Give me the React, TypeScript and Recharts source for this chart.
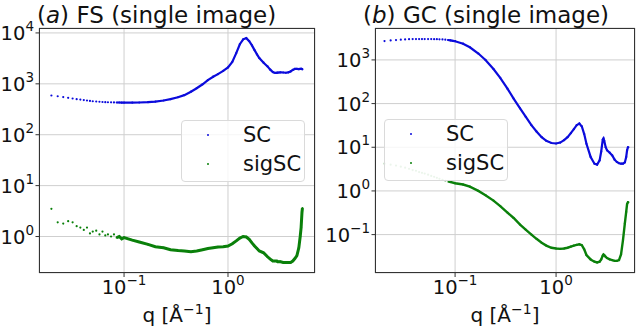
import React from "react";
import { Legend, Scatter, ScatterChart, XAxis, YAxis, CartesianGrid } from "recharts";

// q grid shared by both panels (Å^-1)
const qGrid = [
    0.020, 0.023, 0.026, 0.029, 0.032, 0.035, 0.038, 0.041, 0.044, 0.047, 0.050, 0.054, 0.058, 0.062, 0.066,
    0.070, 0.075, 0.080, 0.085, 0.090, 0.095,
    0.10, 0.12, 0.14, 0.17, 0.20, 0.24, 0.28, 0.33, 0.38, 0.44, 0.50, 0.57, 0.64, 0.72, 0.80, 0.90, 1.00,
    1.10, 1.20, 1.30, 1.40, 1.50, 1.60, 1.70, 1.80, 1.90, 2.00,
    2.20, 2.40, 2.55, 2.70, 2.80, 2.90, 2.95, 3.00, 3.10, 3.20,
    3.40, 3.60, 3.80, 4.00, 4.20, 4.40, 4.60, 4.80,
    4.95, 5.05, 5.15, 5.20,
];

// (a) FS
const fsSC = [
    590, 570, 550, 530, 515, 500, 490, 480, 470, 462, 455, 450, 445, 440, 437, 435, 433, 431, 430, 430, 429,
    428, 428, 430, 437, 448, 470, 500, 545, 600, 700, 820, 980, 1180, 1380, 1550, 1800, 2100,
    2700, 4000, 6000, 7500, 7900, 6900, 5700, 4600, 3800, 3200,
    2600, 2200, 1900, 1700, 1650, 1640, 1650, 1660, 1670, 1680,
    1670, 1650, 1680, 1750, 1880, 1960, 1960, 1940,
    1960, 1980, 1950, 1930,
];
const fsSig = [
    3.5, 1.9, 1.8, 2.0, 1.9, 1.6, 1.5, 1.35, 1.5, 1.15, 1.25, 1.3, 1.1, 1.25, 1.05, 1.1, 1.0, 1.1, 0.95, 1.0, 0.9,
    0.95, 0.85, 0.78, 0.7, 0.63, 0.6, 0.55, 0.53, 0.52, 0.5, 0.52, 0.55, 0.58, 0.6, 0.62, 0.63, 0.65,
    0.72, 0.82, 0.93, 1.0, 0.98, 0.88, 0.75, 0.65, 0.58, 0.52,
    0.48, 0.4, 0.36, 0.33, 0.33, 0.33, 0.33, 0.32, 0.32, 0.32,
    0.31, 0.31, 0.31, 0.31, 0.33, 0.37, 0.42, 0.6,
    1.0, 1.5, 3.0, 3.6,
];

// (b) GC
const gcSC = [
    2700, 2800, 2850, 2900, 2950, 2980, 3000, 3000, 3000, 3000, 3000, 3000, 3000, 2990, 2980, 2960, 2940, 2900, 2860, 2800, 2740,
    2680, 2350, 1950, 1400, 1000, 620, 390, 220, 130, 78, 50, 32, 23, 17, 14, 12.5, 12.2,
    12.8, 14.5, 17, 21, 26, 32, 35, 30, 20, 12,
    6, 4.2, 4.0, 5.0, 8, 15, 16, 14, 10, 8.5,
    7.5, 6.5, 5.2, 4.6, 4.3, 4.2, 4.2, 4.5,
    6, 8.5, 10, 10,
];
const gcSig = [
    4.2, 4.0, 3.8, 3.6, 3.4, 3.2, 3.0, 2.9, 2.7, 2.6, 2.5, 2.35, 2.2, 2.1, 2.0, 1.9, 1.8, 1.7, 1.65, 1.6, 1.55,
    1.5, 1.4, 1.25, 1.0, 0.8, 0.6, 0.45, 0.32, 0.24, 0.17, 0.13, 0.1, 0.08, 0.065, 0.056, 0.05, 0.048,
    0.047, 0.048, 0.05, 0.053, 0.056, 0.058, 0.06, 0.057, 0.046, 0.034,
    0.027, 0.024, 0.023, 0.024, 0.027, 0.033, 0.035, 0.034, 0.031, 0.029,
    0.027, 0.026, 0.025, 0.025, 0.026, 0.035, 0.075, 0.18,
    0.33, 0.5, 0.55, 0.55,
];

const xTicks = [0.1, 1];
const fsYTicks = [1, 10, 100, 1000, 10000];
const gcYTicks = [0.1, 1, 10, 100, 1000];

const FONT = "'DejaVu Sans', sans-serif";
const BLUE = "#0b0bdc";
const GREEN = "#0a800a";
const DENSE_FROM = 0.085;

const expLabel = (v: number) => {
    const e = Math.round(Math.log10(v));
    return e < 0 ? `\u2212${-e}` : `${e}`;
};

const XTick = (props: any) => {
    const { x, y, payload } = props;
    return (
        <text x={x} y={y} dy={15} textAnchor="middle" fontSize={19.5} fill="#111" fontFamily={FONT}>
            <tspan>10</tspan>
            <tspan dy={-9} fontSize={13.5}>{expLabel(payload.value)}</tspan>
        </text>
    );
};

const YTick = (props: any) => {
    const { x, y, payload } = props;
    return (
        <text x={x} y={y} dy={7} textAnchor="end" fontSize={19.5} fill="#111" fontFamily={FONT}>
            <tspan>10</tspan>
            <tspan dy={-9} fontSize={13.5}>{expLabel(payload.value)}</tspan>
        </text>
    );
};

const renderLegend = (props: any) => {
    const items = (props.payload || []).filter((p: any) => p.type !== "none");
    return (
        <div
            style={{
                width: 124,
                height: 62,
                boxSizing: "border-box",
                border: "1px solid #dadada",
                borderRadius: 4,
                background: "rgba(255,255,255,0.8)",
                position: "relative",
                fontFamily: FONT,
            }}
        >
            {items.map((p: any, i: number) => (
                <div key={p.value} style={{ position: "absolute", left: 0, top: 2 + i * 29, height: 24, width: "100%" }}>
                    <span
                        style={{
                            position: "absolute",
                            left: 25,
                            top: 11,
                            width: 2,
                            height: 2,
                            borderRadius: 1,
                            background: p.color,
                        }}
                    />
                    <span style={{ position: "absolute", left: 61, top: 0, lineHeight: "24px", fontSize: 21, color: "#111" }}>
                        {p.value}
                    </span>
                </div>
            ))}
        </div>
    );
};

type PanelProps = {
    left: number;
    tag: string;
    name: string;
    sc: number[];
    sig: number[];
    xDomain: [number, number];
    yDomain: [number, number];
    yTicks: number[];
    yAxisWidth: number;
    legendPos: { left: number; top: number };
    titleX: number;
    faintSig?: boolean;
    sigWidth: number;
};

function Panel({ left, tag, name, sc, sig, xDomain, yDomain, yTicks, yAxisWidth, legendPos, titleX, faintSig, sigWidth }: PanelProps) {
    const scRows = qGrid.map((q, i) => ({ q, v: sc[i] }));
    const sigRows = qGrid.map((q, i) => ({ q, v: sig[i] }));
    const scDense = scRows.filter((r) => r.q >= DENSE_FROM);
    const sigDense = sigRows.filter((r) => r.q >= DENSE_FROM);
    const W = 320;
    const H = 327;
    const top = 28;
    const right = 5;
    const xAxisH = 54;
    const plotW = W - yAxisWidth - right;
    const plotH = H - top - xAxisH;

    return (
        <div style={{ position: "absolute", left, top: 0, width: W, height: H }}>
            <ScatterChart width={W} height={H} margin={{ top, right, bottom: 0, left: 0 }}>
                <CartesianGrid stroke="#cfcfcf" strokeWidth={1} />
                <XAxis
                    type="number"
                    dataKey="q"
                    scale="log"
                    domain={xDomain}
                    ticks={xTicks}
                    allowDataOverflow
                    height={xAxisH}
                    axisLine={false}
                    tickSize={4}
                    tickMargin={2}
                    tickLine={{ stroke: "#333" }}
                    tick={<XTick />}
                />
                <YAxis
                    type="number"
                    dataKey="v"
                    scale="log"
                    domain={yDomain}
                    ticks={yTicks}
                    allowDataOverflow
                    width={yAxisWidth}
                    axisLine={false}
                    tickSize={3.5}
                    tickMargin={1.5}
                    tickLine={{ stroke: "#333" }}
                    tick={<YTick />}
                />
                <Legend
                    layout="horizontal"
                    verticalAlign="middle"
                    align="center"
                    content={renderLegend}
                    wrapperStyle={{ left: legendPos.left, top: legendPos.top, width: 124, height: 62 }}
                />
                <Scatter
                    name="SC"
                    data={scRows}
                    fill={BLUE}
                    isAnimationActive={false}
                    shape={(p: any) => <circle cx={p.cx} cy={p.cy} r={1.1} fill={BLUE} />}
                />
                <Scatter
                    name="sigSC"
                    data={sigRows}
                    fill={GREEN}
                    isAnimationActive={false}
                    shape={(p: any) => (
                        <circle cx={p.cx} cy={p.cy} r={1.1} fill={GREEN} fillOpacity={faintSig && p.q < 0.1 ? 0.4 : 1} />
                    )}
                />
                <Scatter
                    name="SC line"
                    data={scDense}
                    legendType="none"
                    line={{ stroke: BLUE, strokeWidth: 2.2 }}
                    shape={() => <g />}
                    isAnimationActive={false}
                />
                <Scatter
                    name="sigSC line"
                    data={sigDense}
                    legendType="none"
                    line={{ stroke: GREEN, strokeWidth: sigWidth }}
                    shape={() => <g />}
                    isAnimationActive={false}
                />
            </ScatterChart>
            <div
                style={{
                    position: "absolute",
                    left: yAxisWidth,
                    top,
                    width: plotW,
                    height: plotH,
                    boxSizing: "border-box",
                    border: "1px solid #333",
                    pointerEvents: "none",
                }}
            />
            <svg width={W} height={H} style={{ position: "absolute", left: 0, top: 0, pointerEvents: "none" }}>
                <text x={titleX} y={23} fontSize={23} fill="#111" fontFamily={FONT}>
                    <tspan>(</tspan>
                    <tspan fontStyle="italic">{tag}</tspan>
                    <tspan>) {name} (single image)</tspan>
                </text>
                <text x={yAxisWidth + plotW / 2} y={322} textAnchor="middle" fontSize={20} fill="#111" fontFamily={FONT}>
                    <tspan>q [Å</tspan>
                    <tspan dy={-8} fontSize={14}>{"\u22121"}</tspan>
                    <tspan dy={8}>]</tspan>
                </text>
            </svg>
        </div>
    );
}

export default function App() {
    return (
        <div style={{ position: "absolute", left: 0, top: 0, width: 640, height: 327, background: "#fff", fontFamily: FONT }}>
            <Panel
                left={0}
                tag="a"
                name="FS"
                sc={fsSC}
                sig={fsSig}
                xDomain={[0.0152, 6.87]}
                yDomain={[0.192, 12500]}
                yTicks={fsYTicks}
                yAxisWidth={39}
                legendPos={{ left: 181, top: 120 }}
                titleX={37}
                sigWidth={3}
            />
            <Panel
                left={320}
                tag="b"
                name="GC"
                sc={gcSC}
                sig={gcSig}
                xDomain={[0.0161, 6.05]}
                yDomain={[0.0132, 5380]}
                yTicks={gcYTicks}
                yAxisWidth={55}
                legendPos={{ left: 64, top: 119 }}
                titleX={43}
                faintSig
                sigWidth={2.4}
            />
        </div>
    );
}
